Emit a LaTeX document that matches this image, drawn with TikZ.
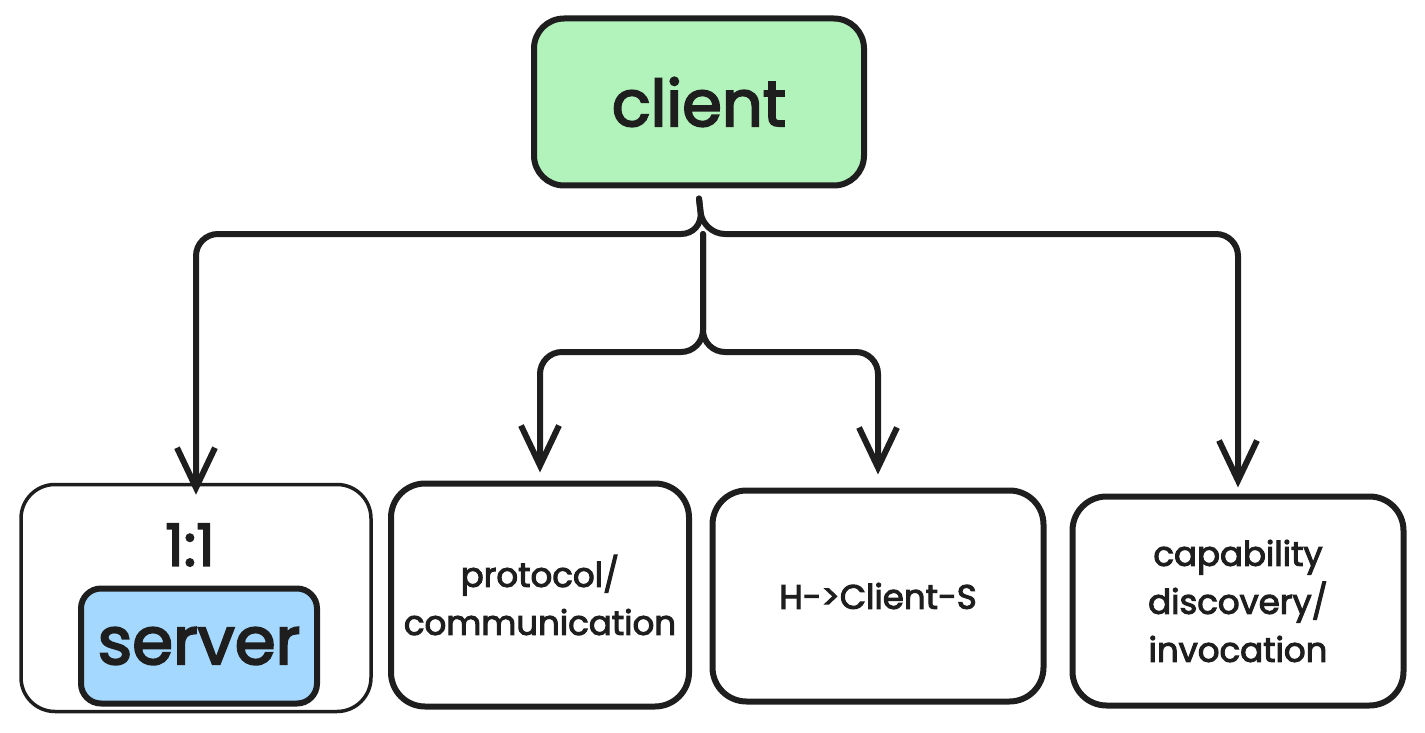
\documentclass[tikz,border=0pt]{standalone}
\usepackage{fontspec}
\setmainfont{Poppins}[FakeBold=3]
\usetikzlibrary{arrows.meta, positioning}

\definecolor{ink}{HTML}{1E1E1E}
\definecolor{clientgreen}{HTML}{B2F2BB}
\definecolor{serverblue}{HTML}{A5D8FF}

\begin{document}
\begin{tikzpicture}[
  x=1pt, y=-1pt,
  every node/.style={text=ink},
  box/.style={rectangle, draw=ink, line width=6pt, rounded corners=34pt, align=center, inner sep=0pt},
  clientbox/.style={box, fill=clientgreen, rounded corners=30pt, minimum width=330pt, minimum height=167pt, font=\fontsize{64}{70}\selectfont},
  groupbox/.style={box, line width=3.5pt, minimum width=350pt, minimum height=227pt},
  serverbox/.style={box, fill=serverblue, rounded corners=20pt, minimum width=236pt, minimum height=115pt, font=\fontsize{66}{70}\selectfont},
  rolebox/.style={box, font=\fontsize{34}{48}\selectfont},
  arr/.style={-{Straight Barb[length=40pt, width=38pt, line width=6pt]}, line width=6pt, draw=ink, rounded corners=22pt, line cap=round},
]
\useasboundingbox (0,0) rectangle (1425,733);

% Top node
\node[clientbox] (client) at (699,102) {client};

% Bottom row
\node[groupbox] (pairing) at (196,598) {};
\node[font=\fontsize{58}{60}\selectfont] (ratio) at (190,545) {1:1};
\node[serverbox] (server) at (199,646) {server};
\node[rolebox, minimum width=298pt, minimum height=223pt] (protocol) at (540,595) {protocol/\\communication};
\node[rolebox, minimum width=331pt, minimum height=211pt] (hostlink) at (878,596) {H->Client-S};
\node[rolebox, minimum width=331pt, minimum height=209pt] (discovery) at (1238,601) {capability\\discovery/\\invocation};

% Split points
\coordinate (split) at (703,234);
\coordinate (fork) at (703,352);

% Arrows - outer
\draw[arr] ([yshift=-10pt]client.south) -- (split) -| ([yshift=-12pt]pairing.north);
\draw[arr] ([yshift=-10pt]client.south) -- (split) -| ([yshift=6pt]discovery.north);

% Arrows - inner
\draw[arr] (split) -- (fork) -| ([yshift=8pt]protocol.north);
\draw[arr] (split) -- (fork) -| ([yshift=13pt]hostlink.north);
\end{tikzpicture}
\end{document}
